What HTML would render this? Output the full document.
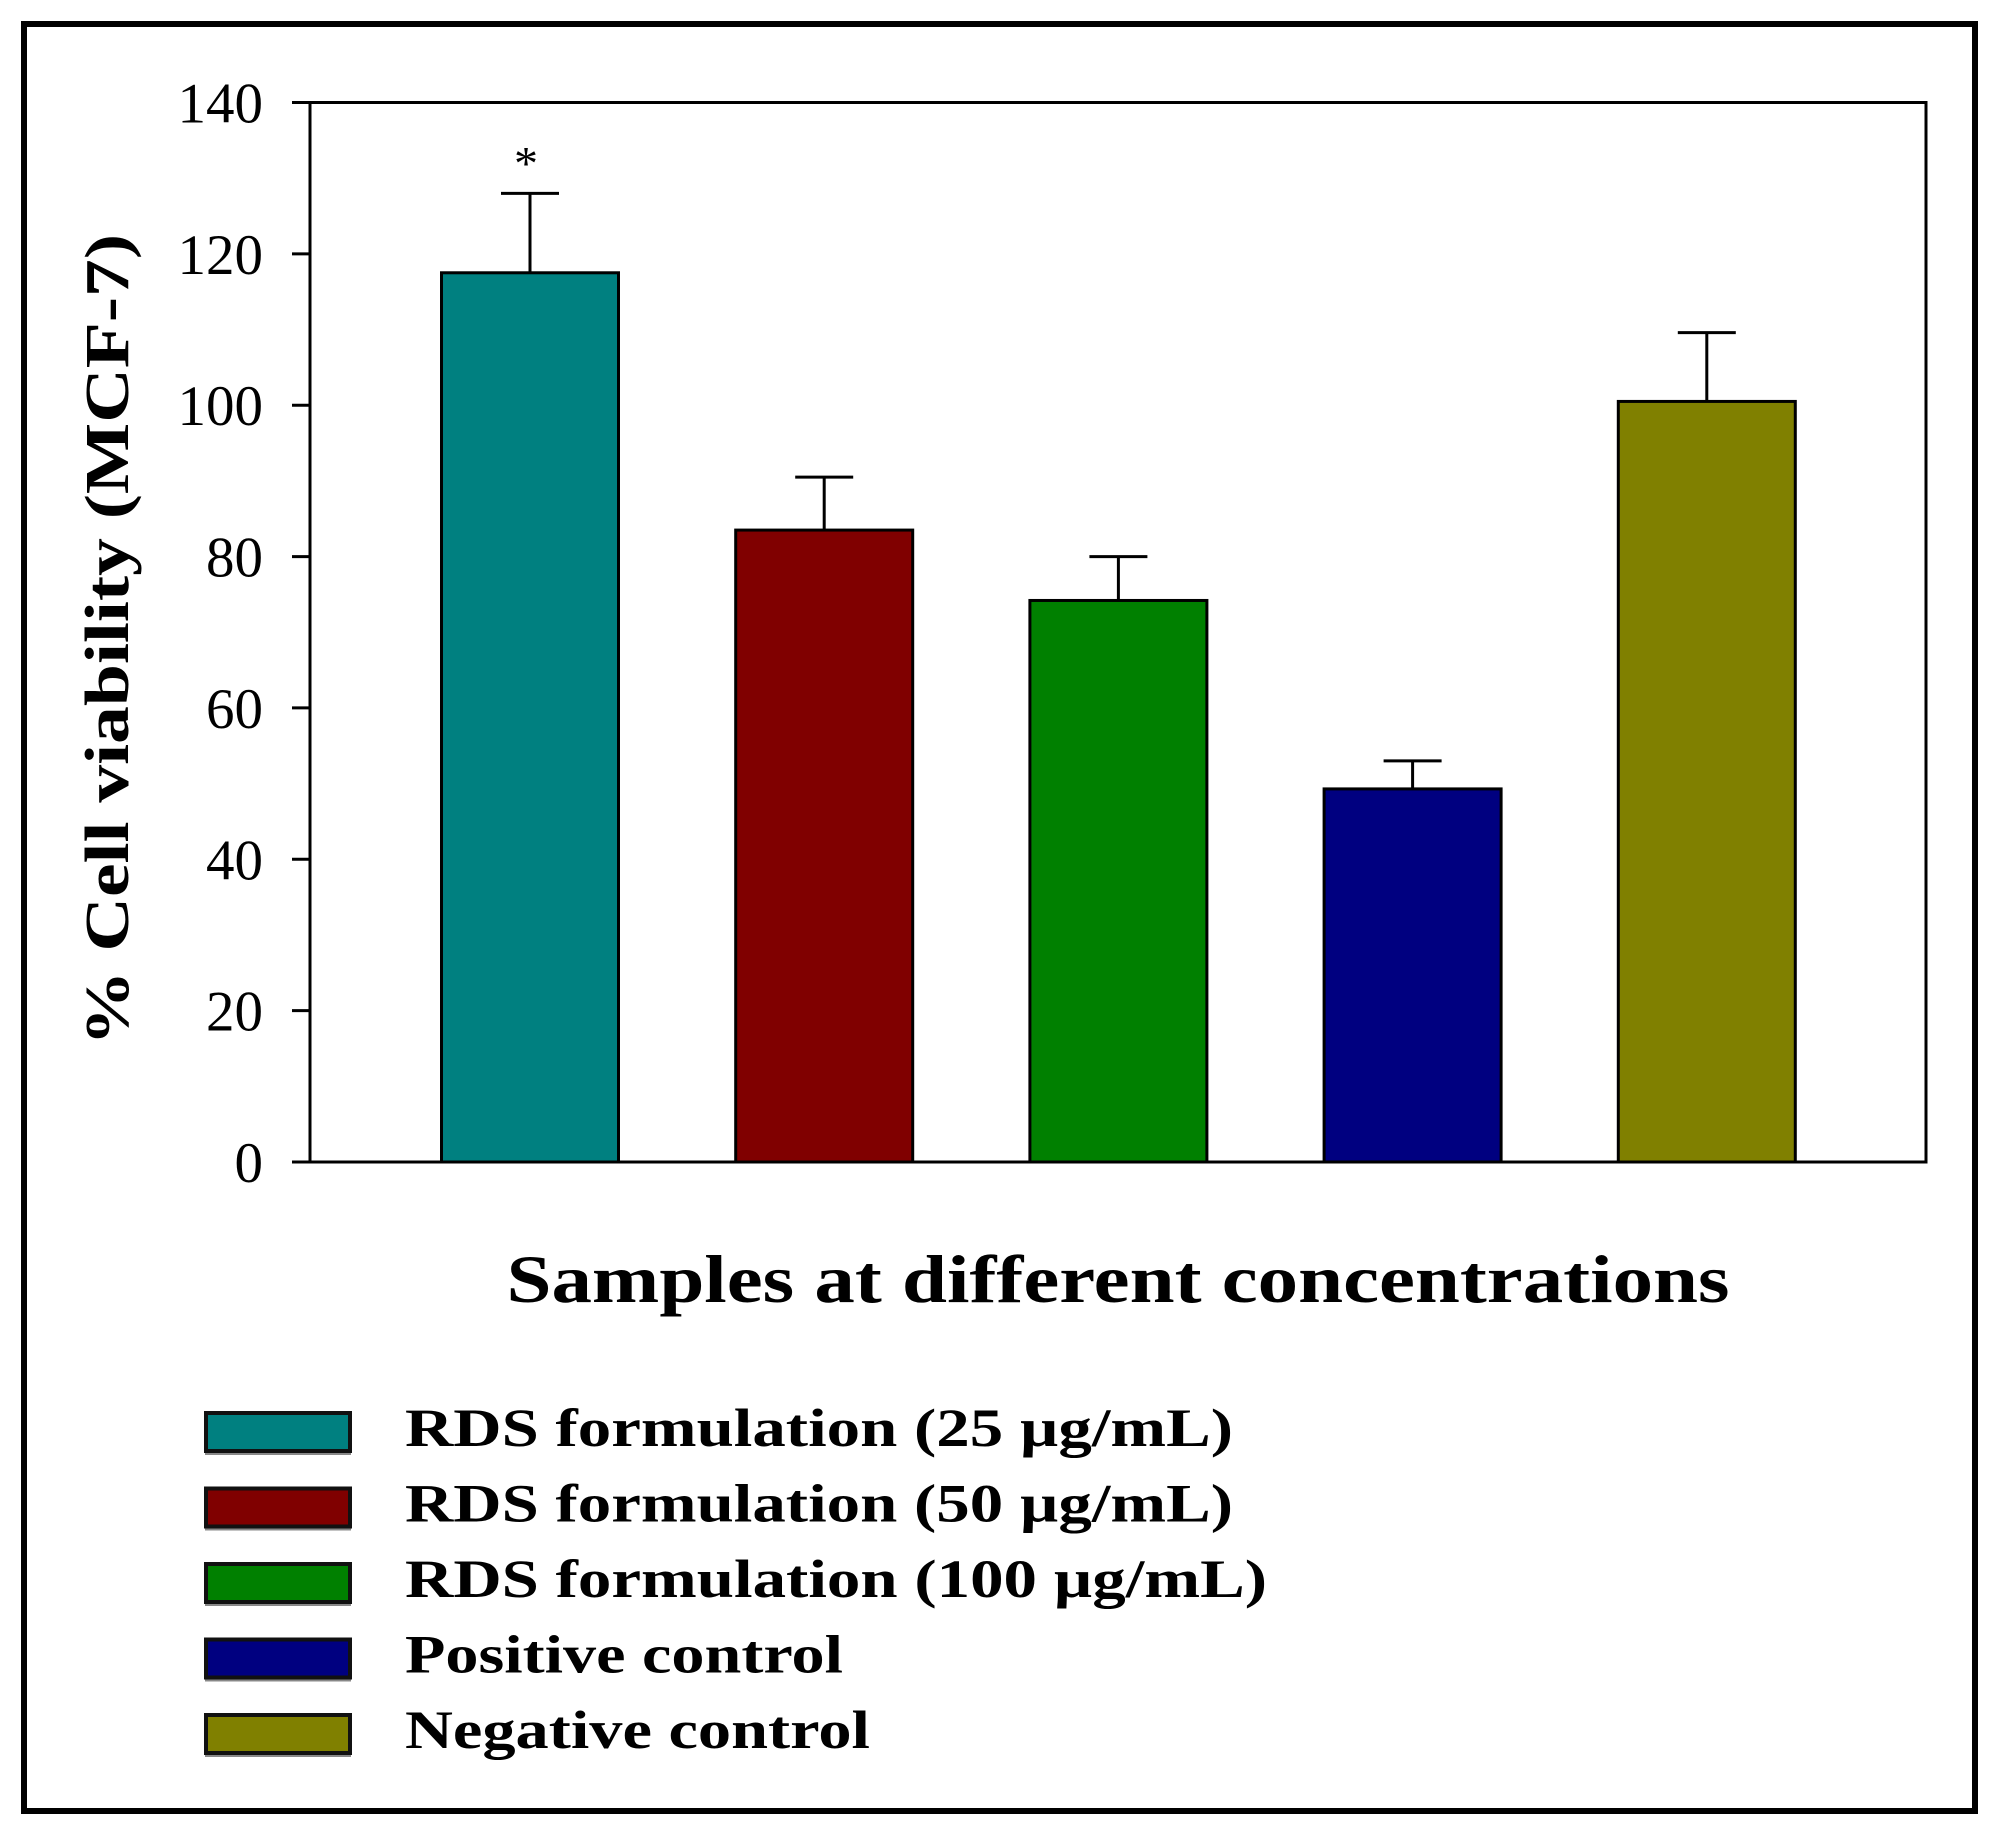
<!DOCTYPE html>
<html><head><meta charset="utf-8"><style>
html,body{margin:0;padding:0;background:#fff;}
svg{display:block;}
text{font-family:"Liberation Serif",serif;fill:#000;}
</style></head><body>
<svg id="chart" width="2003" height="1846" viewBox="0 0 2003 1846" xmlns="http://www.w3.org/2000/svg">
<rect x="24" y="24" width="1951" height="1787" fill="#fff" stroke="#000" stroke-width="6"/>
<g id="plot"></g>
<text x="0" y="0" transform="translate(128,640) rotate(-90)" text-anchor="middle" font-size="62" font-weight="bold" textLength="812" lengthAdjust="spacingAndGlyphs">% Cell viability (MCF-7)</text>
<text x="1118" y="1302" text-anchor="middle" font-size="68" font-weight="bold" textLength="1223" lengthAdjust="spacingAndGlyphs">Samples at different concentrations</text>
<g id="legend"></g>
</svg>
<script>
const categories = ["RDS formulation (25 µg/mL)", "RDS formulation (50 µg/mL)", "RDS formulation (100 µg/mL)", "Positive control", "Negative control"];
const values = [117.5, 83.5, 74.2, 49.3, 100.5];
const errors = [10.5, 7.0, 5.8, 3.7, 9.1];
const colors = ["#008080", "#800000", "#008000", "#000080", "#808000"];
const yTicks = [0, 20, 40, 60, 80, 100, 120, 140];
const legendLabels = ["RDS formulation  (25 µg/mL)", "RDS formulation  (50 µg/mL)", "RDS formulation  (100 µg/mL)", "Positive control", "Negative control"];
const legendWidths = [828, 828, 862, 438, 465];
const significance = ["*", "", "", "", ""];

const NS = "http://www.w3.org/2000/svg";
const X0 = 310, X1 = 1926, Y0 = 1162, Y1 = 102.5, YMAX = 140;
const y = v => Y0 - (v / YMAX) * (Y0 - Y1);
const xc = i => 530 + i * 294.2;
const BW = 177;
function el(tag, attrs, parent) {
  const e = document.createElementNS(NS, tag);
  for (const k in attrs) e.setAttribute(k, attrs[k]);
  parent.appendChild(e);
  return e;
}
const plot = document.getElementById("plot");

values.forEach((v, i) => {
  const b = el("rect", {x: xc(i) - BW / 2, y: y(v), width: BW, height: Y0 - y(v), fill: colors[i], stroke: "#000", "stroke-width": 3}, plot);
  
  
  const top = y(v + errors[i]);
  const eb = el("path", {d: `M${xc(i)} ${y(v)} V${top} M${xc(i) - 29} ${top} H${xc(i) + 29}`, stroke: "#000", "stroke-width": 3, fill: "none"}, plot);
  
  
  if (significance[i]) {
    const s = el("text", {x: xc(i) - 4, y: top - 14, "text-anchor": "middle", "font-size": 48}, plot);
    s.textContent = significance[i];
    
    
  }
});

const frame = el("rect", {x: X0, y: Y1, width: X1 - X0, height: Y0 - Y1, fill: "none", stroke: "#000", "stroke-width": 3}, plot);



yTicks.forEach(t => {
  const tk = el("line", {x1: 292, x2: X0, y1: y(t), y2: y(t), stroke: "#000", "stroke-width": 3}, plot);
  
  
  const lb = el("text", {x: 263, y: y(t) + 20, "text-anchor": "end", "font-size": 57}, plot);
  lb.textContent = t;
  
  
});

const legend = document.getElementById("legend");
legendLabels.forEach((l, i) => {
  const yy = 1413 + i * 75.5;
  const g = el("g", {}, legend);
  
  
  el("rect", {x: 205, y: yy + 2, width: 146, height: 40, fill: "#888"}, g);
  const sw = el("rect", {x: 206, y: yy, width: 144, height: 38, fill: colors[i], stroke: "#111", "stroke-width": 4}, g);
  
  
  const t = el("text", {x: 405, y: yy + 33, "font-size": 54, "font-weight": "bold", textLength: legendWidths[i], lengthAdjust: "spacingAndGlyphs"}, g);
  t.textContent = l;
  
  
});
</script>
</body></html>
